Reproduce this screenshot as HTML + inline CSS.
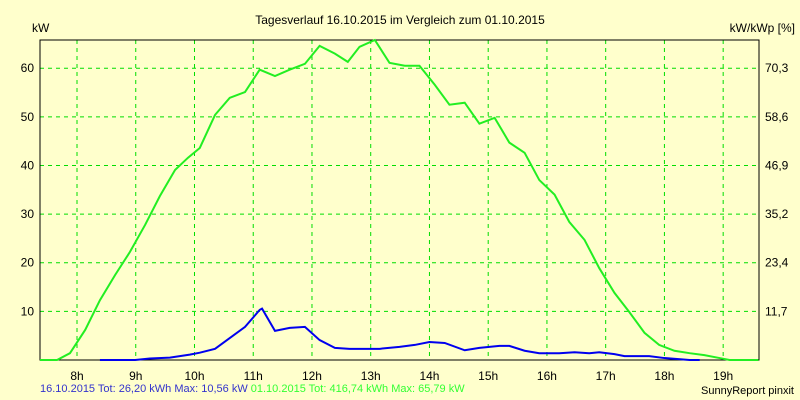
<!DOCTYPE html>
<html><head><meta charset="utf-8"><style>
body{margin:0;background:#ffffcc;}
svg{display:block;font-family:"Liberation Sans",sans-serif;}
</style></head><body>
<svg id="c" width="800" height="400">
<rect width="800" height="400" fill="#ffffcc"/>
<text x="400" y="24" font-size="12" text-anchor="middle">Tagesverlauf 16.10.2015 im Vergleich zum 01.10.2015</text>
<text x="32" y="32" font-size="12">kW</text>
<text x="795" y="32" font-size="12" text-anchor="end">kW/kWp [%]</text>
<g id="grid"></g><g id="series"></g>
<text x="40" y="392" font-size="11" fill="#3333cc">16.10.2015 Tot: 26,20 kWh Max: 10,56 kW <tspan fill="#33ff33">01.10.2015 Tot: 416,74 kWh Max: 65,79 kW</tspan></text>
<text x="794" y="394" font-size="11" text-anchor="end">SunnyReport pinxit</text>
</svg>
<script>
const hourTicks=[8,9,10,11,12,13,14,15,16,17,18,19];
const leftTicks=[10,20,30,40,50,60];
const rightTickLabels=["11,7","23,4","35,2","46,9","58,6","70,3"];
const greenT=[7.37,7.66,7.88,8.14,8.39,8.65,8.9,9.16,9.41,9.67,9.89,10.09,10.35,10.6,10.86,11.11,11.37,11.62,11.88,12.13,12.39,12.61,12.81,13.07,13.32,13.58,13.83,14.09,14.34,14.6,14.85,15.11,15.36,15.62,15.87,16.13,16.38,16.64,16.89,17.15,17.4,17.66,17.91,18.17,18.43,18.68,18.94,19.11,19.6];
const greenV=[0,0,1.4,6.2,12.3,17.5,22.2,27.8,33.7,39.1,41.6,43.6,50.4,53.9,55.1,59.7,58.4,59.7,60.9,64.6,63,61.3,64.4,65.8,61.1,60.5,60.5,56.6,52.5,52.9,48.6,49.8,44.7,42.6,37,34,28.4,24.7,18.9,13.8,9.9,5.6,3.1,1.9,1.4,1,0.4,0,0];
const blueT=[8.39,8.99,9.24,9.58,9.92,10.09,10.35,10.6,10.86,11.11,11.15,11.37,11.62,11.88,12.13,12.39,12.64,12.9,13.15,13.49,13.75,14.0,14.26,14.6,14.85,15.19,15.36,15.62,15.87,16.21,16.47,16.72,16.89,17.15,17.32,17.74,18.0,18.43,18.6];
const blueV=[0,0,0.3,0.5,1.1,1.5,2.3,4.5,6.8,10.3,10.56,6,6.6,6.8,4.1,2.5,2.3,2.3,2.3,2.7,3.1,3.7,3.5,2,2.5,2.9,2.9,1.9,1.4,1.4,1.6,1.4,1.6,1.2,0.8,0.8,0.4,0,0];
const L=40,R=759,T=40,B=360,H0=7.37,H1=19.61,VMAX=65.8;
const X=h=>L+(h-H0)/(H1-H0)*(R-L);
const Y=v=>B-v/VMAX*(B-T);
const NS="http://www.w3.org/2000/svg";
function mk(tag,at,parent){const e=document.createElementNS(NS,tag);for(const k in at)e.setAttribute(k,at[k]);parent.appendChild(e);return e;}
const g=document.getElementById('grid'),s=document.getElementById('series');
hourTicks.forEach(h=>{
 const l=mk('line',{x1:X(h),x2:X(h),y1:T,y2:B,stroke:'#00dd00','stroke-dasharray':'4,4'},g);
 
 
 const t=mk('text',{x:X(h),y:B+20,'font-size':12,'text-anchor':'middle'},g);t.textContent=h+'h';
 
 
});
leftTicks.forEach((v,i)=>{
 const l=mk('line',{x1:L,x2:R,y1:Y(v),y2:Y(v),stroke:'#00dd00','stroke-dasharray':'4,4'},g);
 
 
 const t=mk('text',{x:L-6,y:Y(v)+4,'font-size':12,'text-anchor':'end'},g);t.textContent=v;
 
 
 const t2=mk('text',{x:R+6,y:Y(v)+4,'font-size':12},g);t2.textContent=rightTickLabels[i];
 
 
});
const frame=mk('path',{d:`M${L},${T}H${R}V${B}H${L}Z`,fill:'none',stroke:'#000','stroke-width':1},g);


const gp=mk('polyline',{points:greenT.map((h,i)=>X(h)+','+Y(greenV[i])).join(' '),fill:'none',stroke:'#22ee22','stroke-width':2},s);


const bp=mk('polyline',{points:blueT.map((h,i)=>X(h)+','+Y(blueV[i])).join(' '),fill:'none',stroke:'#0000ee','stroke-width':2},s);


</script>
</body></html>
